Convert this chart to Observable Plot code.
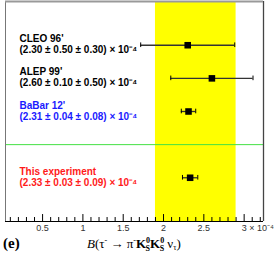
<!DOCTYPE html>
<html><head><meta charset="utf-8">
<script src="https://cdn.jsdelivr.net/npm/d3@7"></script>
<script src="https://cdn.jsdelivr.net/npm/@observablehq/plot@0.6"></script>
<style>body{margin:0;background:#fff} svg{display:block}</style>
</head><body><div id="chart"></div><script>
const experiments = ["CLEO 96'", "ALEP 99'", "BaBar 12'", "This experiment"];
const values = [2.30, 2.60, 2.31, 2.33];
const statErr = [0.50, 0.10, 0.04, 0.03];
const sysErr = [0.30, 0.50, 0.08, 0.09];
const resultLabels = [
  "(2.30 ± 0.50 ± 0.30) × 10⁻⁴",
  "(2.60 ± 0.10 ± 0.50) × 10⁻⁴",
  "(2.31 ± 0.04 ± 0.08) × 10⁻⁴",
  "(2.33 ± 0.03 ± 0.09) × 10⁻⁴"
];
const rows = [4, 3, 2, 0];
const labelColors = ["#000000", "#000000", "#1a1aff", "#ff1a1a"];
const separatorRows = [1];
const averageBand = [[1.9, 2.9]];
const majorTicks = [0.5, 1, 1.5, 2, 2.5, 3];
const majorTickLabels = ["0.5", "1", "1.5", "2", "2.5", "3"];
const minorTicks = [0.1,0.2,0.3,0.4,0.6,0.7,0.8,0.9,1.1,1.2,1.3,1.4,1.6,1.7,1.8,1.9,2.1,2.2,2.3,2.4,2.6,2.7,2.8,2.9,3.1,3.2];
const exponentLabel = ["× 10⁻⁴"];
const xDomain = [0.04, 3.24];
const yDomain = [-1.32, 5.32];

const data = experiments.map((name, i) => {
  const err = Math.sqrt(statErr[i] ** 2 + sysErr[i] ** 2);
  return {name, value: values[i], lo: values[i] - err, hi: values[i] + err,
          row: rows[i], color: labelColors[i], label: name + "\n" + resultLabels[i]};
});
const caps = data.flatMap(d => [{x: d.lo, row: d.row}, {x: d.hi, row: d.row}]);
const yBottom = yDomain[0];

const sans = "Liberation Sans, Arial, Helvetica, sans-serif";
const plot = Plot.plot({
  width: 274, height: 255,
  marginLeft: 5, marginRight: 11, marginTop: 1, marginBottom: 34,
  x: {domain: xDomain, axis: null},
  y: {domain: yDomain, axis: null},
  style: {background: "#fff", fontFamily: sans},
  marks: [
    Plot.rect(averageBand, {x1: d => d[0], x2: d => d[1], fill: "#ffff00"}),
    Plot.ruleY(separatorRows, {y: d => d, stroke: "#44e044", strokeWidth: 1}),
    Plot.ruleY(data, {y: "row", x1: "lo", x2: "hi", stroke: "#333", strokeWidth: 1.3}),
    Plot.ruleX(caps, {x: "x", y1: d => d.row - 0.07, y2: d => d.row + 0.07, stroke: "#000", strokeWidth: 1}),
    Plot.dot(data, {x: "value", y: "row", symbol: "square", r: 3.7, fill: "#000", stroke: null}),
    Plot.text(data, {y: "row", text: "label", frameAnchor: "left", dx: 14, dy: -1, textAnchor: "start",
      lineAnchor: "middle", lineHeight: 1.1, fill: "color", fontWeight: "bold", fontSize: 10}),
    Plot.ruleX(majorTicks, {x: d => d, y1: yBottom, y2: yBottom + 0.21, stroke: "#000"}),
    Plot.ruleX(minorTicks, {x: d => d, y1: yBottom, y2: yBottom + 0.12, stroke: "#000"}),
    Plot.text(majorTicks, {x: d => d, text: (d, i) => majorTickLabels[i], frameAnchor: "bottom",
      lineAnchor: "top", dy: 3, fontSize: 9, fill: "#333"}),
    Plot.text(exponentLabel, {x: () => majorTicks[majorTicks.length - 1], text: d => d, frameAnchor: "bottom",
      lineAnchor: "top", dy: 3, dx: 5, textAnchor: "start", fontSize: 9, fill: "#333"}),
    Plot.ruleX([xDomain[0]], {stroke: "#777", strokeWidth: 1}),
    Plot.ruleX([xDomain[1]], {stroke: "#444", strokeWidth: 1.3}),
    Plot.ruleY([yDomain[1]], {stroke: "#999", strokeWidth: 2}),
    Plot.ruleY([yDomain[0]], {stroke: "#000", strokeWidth: 1})
  ]
});
document.getElementById("chart").appendChild(plot);

const svg = d3.select(plot);
const serif = "Liberation Serif, Times New Roman, serif";
svg.append("text").attr("x", 3).attr("y", 248).attr("text-anchor", "start")
  .attr("font-family", serif).attr("font-weight", "bold").attr("font-size", 15)
  .attr("fill", "#000").text("(e)");

const t = svg.append("text").attr("x", 87).attr("y", 248).attr("text-anchor", "start")
  .attr("font-family", serif).attr("font-size", 13).attr("fill", "#000");
let level = 0;
function part(str, {shift = 0, size = 13, bold = false, italic = false, dx = 0} = {}) {
  const s = t.append("tspan").attr("dy", shift - level).attr("font-size", size).text(str);
  if (dx) s.attr("dx", dx);
  if (bold) s.attr("font-weight", "bold");
  if (italic) s.attr("font-style", "italic");
  level = shift;
}
part("B", {italic: true});
part("(τ");
part("-", {shift: -5, size: 8});
part(" → π");
part("-", {shift: -5, size: 8});
for (let k = 0; k < 2; k++) {
  part("K", {bold: true});
  part("0", {shift: -5, size: 8, bold: true});
  part("S", {shift: 3, size: 8, bold: true, dx: -4.5});
}
part(" ν");
part("τ", {shift: 2, size: 8});
part(")");
</script></body></html>
